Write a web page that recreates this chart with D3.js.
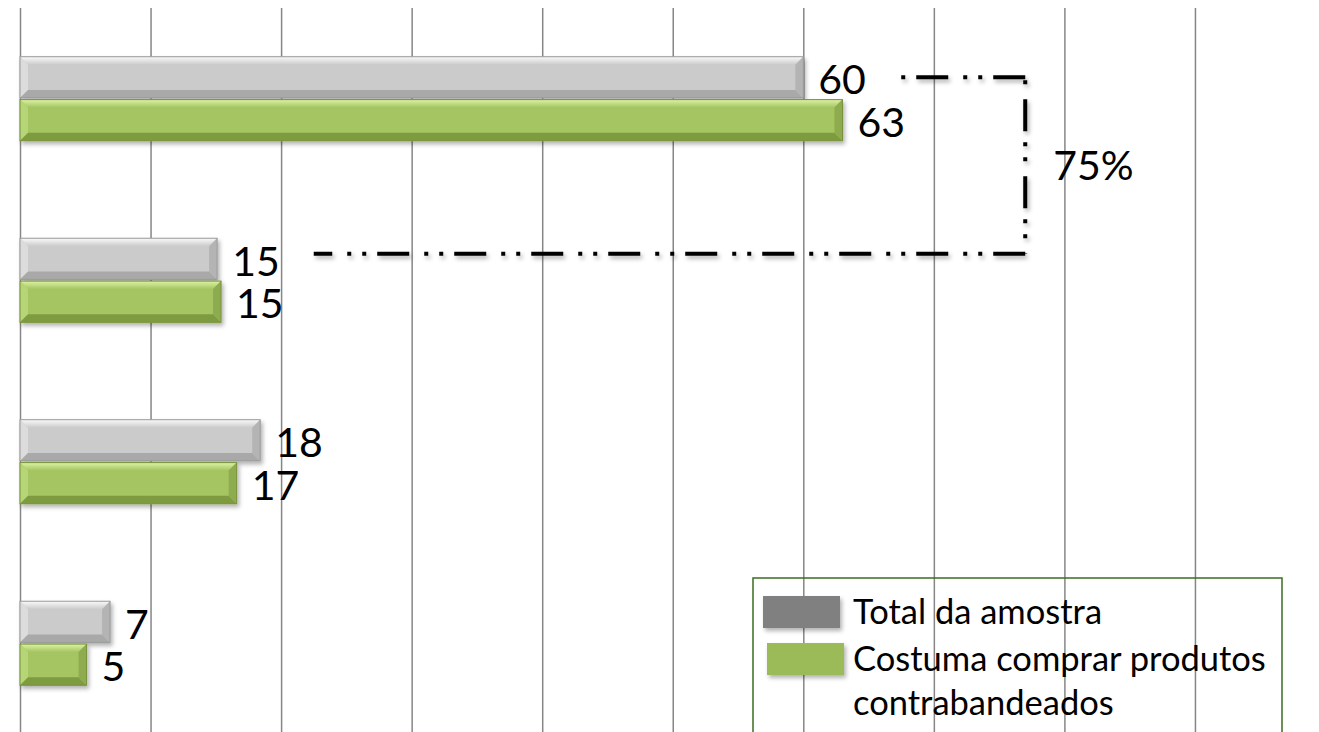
<!DOCTYPE html>
<html>
<head>
<meta charset="utf-8">
<script src="https://cdn.jsdelivr.net/npm/d3@7"></script>
<style>
  html, body { margin: 0; padding: 0; background: #fff; }
  svg { display: block; }
  text { font-family: Lato, "Open Sans", sans-serif; fill: #000; }
</style>
</head>
<body>
<div id="chart"></div>
<script>
// data
const categories = ['Grupo A', 'Grupo B', 'Grupo C', 'Grupo D']
const seriesNames = ['Total da amostra', 'Costuma comprar produtos contrabandeados']
const totalAmostra = [60, 15.1, 18.4, 6.9]
const costumaComprar = [63, 15.4, 16.6, 5.1]
const legendLines = [['Total da amostra'], ['Costuma comprar produtos', 'contrabandeados']]
const bracketLabel = '75%'

const WIDTH = 1319
const HEIGHT = 732

const svg = d3.select('#chart').append('svg')
  .attr('width', WIDTH)
  .attr('height', HEIGHT)

const defs = svg.append('defs')
const shadow = defs.append('filter').attr('id', 'shadow')
  .attr('x', '-10%').attr('y', '-30%').attr('width', '130%').attr('height', '180%')
shadow.append('feDropShadow')
  .attr('dx', 2).attr('dy', 3).attr('stdDeviation', 2)
  .attr('flood-color', '#000').attr('flood-opacity', 0.3)

const styles = [
  { main: '#cbcbcb', top: '#fafafa', left: '#dcdcdc', bottom: '#a9a9a9', right: '#b4b4b4', line: '#9a9a9a', legend: '#808080' },
  { main: '#a5c562', top: '#dbf3a3', left: '#b6d576', bottom: '#7f9b41', right: '#8eac4f', line: '#77923b', legend: '#9bbb59' }
]
styles.forEach(function (s, i) {
  const g = defs.append('linearGradient').attr('id', 'topGrad' + i)
    .attr('x1', 0).attr('y1', 0).attr('x2', 0).attr('y2', 1)
  g.append('stop').attr('offset', '0%').attr('stop-color', s.top)
  g.append('stop').attr('offset', '100%').attr('stop-color', s.main)
})

// scales
const x = d3.scaleLinear().domain([0, 100]).range([20, 1325.5])
const y0 = d3.scaleBand().domain(categories).range([8, 734])
  .paddingInner(0.537).paddingOuter(0.2685)
const y1 = d3.scaleBand().domain(seriesNames).range([0, y0.bandwidth()]).paddingInner(0.04)

// grid
svg.append('g')
  .attr('transform', 'translate(0,8)')
  .call(d3.axisBottom(x).tickValues(d3.range(0, 100, 10)).tickSize(HEIGHT).tickFormat(''))
  .call(function (g) { g.select('.domain').remove() })
  .call(function (g) { g.selectAll('.tick line').attr('stroke', '#868686').attr('stroke-width', 1.5) })

// bars
const rows = categories.map(function (c, i) {
  return { cat: c, values: [totalAmostra[i], costumaComprar[i]] }
})

const groups = svg.selectAll('g.cat')
  .data(rows)
  .enter().append('g')
  .attr('class', 'cat')
  .attr('transform', function (d) { return 'translate(0,' + y0(d.cat) + ')' })

const bars = groups.selectAll('g.bar')
  .data(function (d) {
    return d.values.map(function (v, k) { return { value: v, k: k, name: seriesNames[k] } })
  })
  .enter().append('g')
  .attr('class', 'bar')
  .attr('filter', 'url(#shadow)')

bars.each(function (d) {
  const g = d3.select(this)
  const s = styles[d.k]
  const x0 = x(0)
  const x1 = x(d.value)
  const t = y1(d.name)
  const h = y1.bandwidth()
  const b = 8
  const w = x1 - x0
  g.append('rect').attr('x', x0).attr('y', t).attr('width', w).attr('height', h).attr('fill', s.main)
  const poly = function (pts, fill) {
    g.append('polygon').attr('points', pts.map(function (p) { return p.join(',') }).join(' ')).attr('fill', fill)
  }
  poly([[x0, t], [x1, t], [x1 - b, t + b], [x0 + b, t + b]], 'url(#topGrad' + d.k + ')')
  poly([[x0, t], [x0 + b, t + b], [x0 + b, t + h - b], [x0, t + h]], s.left)
  poly([[x0, t + h], [x0 + b, t + h - b], [x1 - b, t + h - b], [x1, t + h]], s.bottom)
  poly([[x1, t], [x1, t + h], [x1 - b, t + h - b], [x1 - b, t + b]], s.right)
  g.append('rect').attr('x', x0).attr('y', t).attr('width', w).attr('height', h)
    .attr('fill', 'none').attr('stroke', s.line).attr('stroke-width', 1)
})

const fmt = d3.format('.0f')
groups.selectAll('text.val')
  .data(function (d) {
    return d.values.map(function (v, k) { return { value: v, k: k, name: seriesNames[k] } })
  })
  .enter().append('text')
  .attr('class', 'val')
  .attr('x', function (d) { return x(d.value) + 15 })
  .attr('y', function (d) { return y1(d.name) + y1.bandwidth() / 2 + 2 })
  .attr('dy', '0.36em')
  .style('font-size', '41px')
  .text(function (d) { return fmt(d.value) })

// bracket annotation between the first two groups
const bx = x(77)
const topY = y0(categories[0]) + y1(seriesNames[0]) + y1.bandwidth() / 2
const botY = y0(categories[1]) + y1(seriesNames[0]) + y1.bandwidth() / 2 - 5
const bracket = svg.append('g').attr('filter', 'url(#shadow)')
bracket.append('path')
  .attr('d', 'M' + bx + ',' + topY + 'H' + x(67.5))
  .attr('fill', 'none').attr('stroke', '#000').attr('stroke-width', 4)
  .attr('stroke-dasharray', '32 11 4 11 4 15')
bracket.append('path')
  .attr('d', 'M' + bx + ',' + topY + 'V' + botY)
  .attr('fill', 'none').attr('stroke', '#000').attr('stroke-width', 4)
  .attr('stroke-dasharray', '32 11 4 11 4 15')
  .attr('stroke-dashoffset', -22)
bracket.append('path')
  .attr('d', 'M' + bx + ',' + botY + 'H' + x(22.5))
  .attr('fill', 'none').attr('stroke', '#000').attr('stroke-width', 4)
  .attr('stroke-dasharray', '32 11 4 11 4 15')
svg.append('text')
  .attr('x', bx + 28)
  .attr('y', (topY + botY) / 2)
  .attr('dy', '0.36em')
  .style('font-size', '41px')
  .text(bracketLabel)

// legend
const legend = svg.append('g').attr('transform', 'translate(753,578)')
legend.append('rect')
  .attr('x', 0).attr('y', 0).attr('width', 529).attr('height', 200)
  .attr('fill', 'none').attr('stroke', '#3b6e22').attr('stroke-width', 1.5)

const items = legend.selectAll('g.item')
  .data(seriesNames)
  .enter().append('g')
  .attr('class', 'item')
  .attr('transform', function (d, i) { return 'translate(0,' + (i * 47) + ')' })

items.append('rect')
  .attr('x', function (d, i) { return 10 + i * 4 })
  .attr('y', 18)
  .attr('width', 77)
  .attr('height', 32)
  .attr('fill', function (d, i) { return styles[i].legend })
  .attr('filter', 'url(#shadow)')

items.each(function (d, i) {
  d3.select(this).selectAll('text')
    .data(legendLines[i])
    .enter().append('text')
    .attr('x', 100)
    .attr('y', function (l, j) { return 34 + j * 44 })
    .attr('dy', '0.36em')
    .style('font-size', '34.5px')
    .text(function (l) { return l })
})
</script>
</body>
</html>
